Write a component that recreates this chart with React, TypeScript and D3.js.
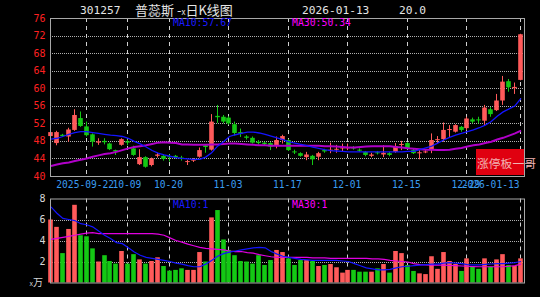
import React from "react";
import * as d3 from "d3";

const dates = [
  "2025-09-12","2025-09-15","2025-09-16","2025-09-17","2025-09-18","2025-09-19","2025-09-22","2025-09-23","2025-09-24","2025-09-25",
  "2025-09-26","2025-09-29","2025-09-30","2025-10-09","2025-10-10","2025-10-13","2025-10-14","2025-10-15","2025-10-16","2025-10-17",
  "2025-10-20","2025-10-21","2025-10-22","2025-10-23","2025-10-24","2025-10-27","2025-10-28","2025-10-29","2025-10-30","2025-10-31",
  "2025-11-03","2025-11-04","2025-11-05","2025-11-06","2025-11-07","2025-11-10","2025-11-11","2025-11-12","2025-11-13","2025-11-14",
  "2025-11-17","2025-11-18","2025-11-19","2025-11-20","2025-11-21","2025-11-24","2025-11-25","2025-11-26","2025-11-27","2025-11-28",
  "2025-12-01","2025-12-02","2025-12-03","2025-12-04","2025-12-05","2025-12-08","2025-12-09","2025-12-10","2025-12-11","2025-12-12",
  "2025-12-15","2025-12-16","2025-12-17","2025-12-18","2025-12-19","2025-12-22","2025-12-23","2025-12-24","2025-12-25","2025-12-26",
  "2025-12-29","2025-12-30","2025-12-31","2026-01-05","2026-01-06","2026-01-07","2026-01-08","2026-01-09","2026-01-12","2026-01-13",
];

const open = [
  49.1,47.5,49.4,49.0,50.5,53.2,51.3,49.5,47.6,48.0,
  47.4,45.9,47.1,47.9,46.3,42.7,44.3,42.5,44.6,44.6,
  44.5,44.6,44.2,43.2,43.5,44.4,47.0,46.0,53.7,53.5,
  53.3,51.8,50.0,49.0,48.7,47.8,47.6,47.5,46.9,48.2,
  48.2,45.6,45.2,44.3,44.6,44.4,45.9,45.8,46.0,46.3,
  46.3,46.5,46.0,45.5,44.6,45.4,44.9,45.2,45.5,47.1,
  47.5,45.9,45.2,45.4,45.9,48.2,48.4,50.5,50.1,51.2,
  50.9,52.9,52.9,52.6,55.2,55.0,57.2,61.6,60.0,61.9,
];
const close = [
  50.0,50.0,49.1,50.6,53.9,51.4,49.3,47.8,47.9,47.7,
  46.1,45.6,48.4,47.6,44.8,44.3,42.1,44.0,44.9,43.9,
  44.3,44.3,44.0,43.4,43.8,45.9,46.6,52.4,53.4,52.4,
  52.0,49.8,49.6,48.7,47.6,47.5,47.3,46.7,48.2,49.1,
  45.9,45.4,44.6,44.9,43.8,45.2,45.6,46.0,46.2,46.5,
  46.6,46.3,45.8,44.8,44.9,45.2,45.3,44.8,46.8,47.3,
  46.3,45.2,45.4,45.6,48.2,48.4,50.5,50.7,51.6,50.5,
  53.1,52.4,52.7,55.6,54.1,57.2,61.5,60.2,60.3,72.3,
];
const high = [
  50.3,50.3,49.6,51.0,55.2,54.7,52.4,49.7,48.6,48.6,
  47.6,46.0,48.6,48.3,46.9,46.1,44.5,44.2,45.3,45.0,
  44.9,44.8,44.6,43.7,44.1,46.5,47.3,54.1,56.2,53.9,
  53.6,52.4,50.8,49.3,49.0,48.2,47.8,47.7,49.0,49.4,
  48.4,46.0,45.4,45.5,44.8,45.5,46.2,47.6,47.1,47.4,
  47.4,46.8,46.3,45.7,45.3,45.7,47.0,45.5,47.5,48.0,
  47.7,46.2,45.9,45.9,49.7,49.1,52.2,51.6,51.8,51.4,
  53.5,53.3,53.5,56.2,55.7,58.7,62.8,62.1,61.3,72.4,
];
const low = [
  47.5,47.0,48.9,47.8,50.3,51.2,49.0,46.7,47.1,47.2,
  45.9,44.8,46.9,47.0,44.6,42.5,41.9,42.2,44.2,43.5,
  43.3,44.0,43.5,42.5,43.2,44.2,45.3,45.8,52.1,52.0,
  51.7,49.2,48.9,48.3,47.4,47.2,47.0,45.9,46.3,47.4,
  45.7,45.0,44.4,43.6,42.5,43.6,45.3,45.2,45.3,45.5,
  45.9,46.0,45.5,44.5,44.3,44.9,44.3,44.5,45.3,45.9,
  46.1,45.0,43.8,45.2,45.2,47.4,47.8,48.8,49.9,50.1,
  50.5,52.0,52.0,51.6,53.5,54.8,56.2,59.2,58.7,61.8,
];
const volume = [
  6.0,5.3,2.8,5.1,7.4,4.5,4.4,3.25,2.0,2.6,
  2.05,1.8,3.0,1.8,2.7,2.2,1.8,2.05,2.4,1.57,
  1.13,1.2,1.35,1.2,1.2,2.9,2.0,6.2,6.9,4.1,
  3.1,2.6,2.05,2.0,1.8,2.6,1.67,2.14,3.1,2.9,
  2.3,1.67,2.14,2.14,2.05,1.57,1.67,1.76,1.45,0.94,
  1.2,1.2,1.03,1.03,1.03,1.35,1.76,0.94,3.0,2.8,
  1.67,1.1,0.87,0.8,2.5,1.3,2.9,2.05,1.76,1.1,
  2.3,1.5,1.3,2.3,1.5,2.2,2.7,1.67,1.57,2.3,
];
const ma10 = [
  48.4,48.6,49.0,49.5,49.9,50.1,50.1,49.9,49.7,49.5,
  49.3,49.2,49.0,48.6,47.9,47.3,46.6,45.8,45.2,44.8,
  44.5,44.2,44.0,43.9,43.8,43.8,44.3,45.3,46.8,47.8,
  49.0,49.4,49.7,50.0,50.0,49.8,49.5,49.1,48.7,48.3,
  47.8,47.5,47.2,46.9,46.6,46.3,46.0,45.8,45.7,45.6,
  45.5,45.5,45.5,45.5,45.5,45.5,45.5,45.5,45.5,45.5,
  45.6,45.6,46.0,46.4,46.8,47.5,48.2,48.8,49.3,49.7,
  50.1,50.5,51.0,51.6,52.4,53.6,54.6,55.3,56.0,57.67,
];
const ma30 = [
  42.3,42.6,42.9,43.1,43.4,43.7,44.0,44.4,44.7,45.0,
  45.2,45.5,45.9,46.3,46.6,46.8,47.0,47.3,47.6,47.7,
  47.6,47.5,47.2,47.2,47.1,47.1,47.1,47.2,47.2,47.3,
  47.4,47.4,47.3,47.2,47.1,47.0,47.0,46.9,46.9,46.9,
  46.9,46.9,46.9,46.9,46.9,46.9,46.8,46.8,46.7,46.6,
  46.5,46.5,46.6,46.7,46.8,46.8,46.8,46.8,46.6,46.5,
  46.3,46.2,46.1,46.0,46.0,45.9,45.9,46.0,46.2,46.4,
  46.7,47.0,47.2,47.5,47.8,48.3,48.7,49.2,49.7,50.34,
];
const volMa10 = [
  7.2,6.6,6.1,6.0,5.9,5.6,5.5,5.3,4.9,4.5,
  4.2,3.8,3.7,3.3,2.9,2.6,2.4,2.3,2.2,2.1,
  2.0,1.85,1.75,1.6,1.5,1.5,1.75,2.1,2.5,2.75,
  2.9,3.0,3.1,3.2,3.3,3.35,3.3,2.95,2.7,2.5,
  2.4,2.3,2.2,2.15,2.1,2.1,2.1,2.1,2.1,2.05,
  2.0,1.8,1.6,1.4,1.3,1.2,1.2,1.25,1.4,1.5,
  1.55,1.6,1.65,1.7,1.75,1.75,1.85,1.9,1.85,1.8,
  1.7,1.67,1.67,1.72,1.76,1.8,1.8,1.85,1.9,2.0,
];
const volMa30 = [
  4.1,4.2,4.3,4.4,4.5,4.6,4.7,4.75,4.65,4.65,
  4.65,4.65,4.65,4.65,4.65,4.65,4.65,4.65,4.6,4.5,
  4.25,4.0,3.85,3.65,3.5,3.35,3.25,3.2,3.15,3.1,
  3.0,2.95,2.95,2.85,2.8,2.65,2.55,2.45,2.4,2.4,
  2.4,2.4,2.4,2.4,2.35,2.35,2.35,2.3,2.3,2.3,
  2.3,2.3,2.3,2.3,2.25,2.25,2.2,2.1,2.05,2.0,
  1.95,1.8,1.7,1.67,1.65,1.65,1.65,1.62,1.6,1.57,
  1.55,1.52,1.5,1.5,1.5,1.5,1.5,1.55,1.6,1.75,
];

const priceTicks = [76, 72, 68, 64, 60, 56, 52, 48, 44, 40];
const volTicks = [8, 6, 4, 2];
const tickDates = ["2025-09-22","2025-10-09","2025-10-20","2025-11-03","2025-11-17","2025-12-01","2025-12-15","2025-12-29","2026-01-13"];
const tickLabels = ["2025-09-22","10-09","10-20","11-03","11-17","12-01","12-15","12-29","2026-01-13"];

const UP = "#ff5a5a";
const DOWN = "#14c814";
const MONO = "'DejaVu Sans Mono', monospace";
const CJK = "'Noto Sans CJK SC', sans-serif";

export default function App() {
  const W = 540, H = 297;
  const left = 50, right = 524;
  const mainTop = 18, mainBottom = 176;
  const volTop = 198.5, volBottom = 282.5;

  const x = d3.scaleLinear().domain([0, dates.length - 1]).range([51, 521]);
  const y = d3.scaleLinear().domain([40, 76]).range([mainBottom, mainTop]);
  const yv = d3.scaleLinear().domain([0, 8]).range([volBottom, volTop]);
  const bw = 4.6;

  const priceLine = d3.line<number>().x((_, i) => x(i)).y((d) => y(d));
  const volLine = d3.line<number>().x((_, i) => x(i)).y((d) => yv(d));

  const tickIdx = tickDates.map((d) => dates.indexOf(d));

  return (
    <svg width={W} height={H} style={{ position: "fixed", left: 0, top: 0, background: "#000" }}>
      <rect x={0} y={0} width={W} height={H} fill="#000" />
      {/* title */}
      <text x={80} y={14} fill="#e4e4e4" fontFamily={MONO} fontSize={11.2}>301257</text>
      <text x={135} y={14.5} fill="#e4e4e4" fontFamily={CJK} fontSize={13}>
        普蕊斯 -<tspan fontSize={8}>x</tspan>日K线图
      </text>
      <text x={302} y={14} fill="#e4e4e4" fontFamily={MONO} fontSize={11.2}>2026-01-13</text>
      <text x={399} y={14} fill="#e4e4e4" fontFamily={MONO} fontSize={11.2}>20.0</text>

      {/* main grid */}
      {priceTicks.filter((t) => t !== 76 && t !== 40).map((t) => (
        <line key={"hg" + t} x1={left} x2={right} y1={Math.round(y(t)) + 0.5} y2={Math.round(y(t)) + 0.5}
          stroke="#b0b0b0" strokeDasharray="1,1" />
      ))}
      {volTicks.filter((t) => t !== 8).map((t) => (
        <line key={"vg" + t} x1={left} x2={right} y1={Math.round(yv(t)) + 0.5} y2={Math.round(yv(t)) + 0.5}
          stroke="#b0b0b0" strokeDasharray="1,1" />
      ))}
      {tickIdx.map((i, k) => (
        <g key={"vl" + k}>
          <line x1={Math.round(x(i)) - 0.5} x2={Math.round(x(i)) - 0.5} y1={mainTop} y2={mainBottom}
            stroke="#d0d0d0" strokeDasharray="4,4" />
          <line x1={Math.round(x(i)) - 0.5} x2={Math.round(x(i)) - 0.5} y1={volTop} y2={volBottom}
            stroke="#d0d0d0" strokeDasharray="4,4" />
        </g>
      ))}

      {/* price axis labels */}
      {priceTicks.map((t) => (
        <text key={"pt" + t} x={45.5} y={y(t) + 3.5} fill="#ff2020" fontFamily={MONO} fontSize={10}
          textAnchor="end">{t}</text>
      ))}
      {volTicks.map((t) => (
        <text key={"vt" + t} x={45.5} y={yv(t) + 3.5} fill="#d8d8d8" fontFamily={MONO} fontSize={10}
          textAnchor="end">{t}</text>
      ))}
      <text x={43} y={286} fill="#d8d8d8" fontFamily={CJK} fontSize={10} textAnchor="end">
        <tspan fontSize={7}>x</tspan>万
      </text>

      {/* date labels */}
      {tickIdx.map((i, k) => (
        <text key={"dl" + k} x={x(i) - 1.5}
          y={188} fill="#3a9cf0" fontFamily={MONO} fontSize={9.6}
          textAnchor={k === tickIdx.length - 1 ? "end" : "middle"}>{tickLabels[k]}</text>
      ))}

      {/* red badge */}
      <rect x={476} y={149} width={49} height={26} fill="#e00010" />
      <text x={477} y={168} fill="#f2b4b4" fontFamily={CJK} fontSize={11.8}>涨停板一哥</text>

      {/* candles */}
      {dates.map((d, i) => {
        const up = close[i] >= open[i];
        const c = up ? UP : DOWN;
        const cx = Math.round(x(i)) - 0.5;
        const top = y(Math.max(open[i], close[i]));
        const bot = y(Math.min(open[i], close[i]));
        return (
          <g key={"c" + i}>
            <line x1={cx} x2={cx} y1={y(high[i])} y2={y(low[i])} stroke={c} strokeWidth={1} />
            <rect x={cx - bw / 2} y={top} width={bw} height={Math.max(1, bot - top)} fill={c} />
          </g>
        );
      })}

      {/* main MA */}
      <path d={priceLine(ma30) || ""} fill="none" stroke="#b000c8" strokeWidth={2} />
      <path d={priceLine(ma10) || ""} fill="none" stroke="#1414ff" strokeWidth={1.3} />

      {/* volume bars */}
      {dates.map((d, i) => {
        const up = close[i] >= open[i];
        const c = up ? UP : DOWN;
        const cx = Math.round(x(i)) - 0.5;
        return (
          <rect key={"v" + i} x={cx - bw / 2} y={yv(volume[i])} width={bw} height={volBottom - yv(volume[i])}
            fill={c} />
        );
      })}
      <path d={volLine(volMa30) || ""} fill="none" stroke="#e000e0" strokeWidth={1.2} />
      <path d={volLine(volMa10) || ""} fill="none" stroke="#1414ff" strokeWidth={1.2} />

      {/* frames */}
      <rect x={left + 0.5} y={mainTop + 0.5} width={right - left} height={mainBottom - mainTop}
        fill="none" stroke="#a8a8a8" strokeWidth={1} />
      <rect x={left + 0.5} y={volTop + 0.5} width={right - left} height={volBottom - volTop}
        fill="none" stroke="#a8a8a8" strokeWidth={1} />

      {/* legends */}
      <text x={173} y={26} fill="#1a1aff" fontFamily={MONO} fontSize={9.8}>MA10:57.67</text>
      <text x={292} y={26} fill="#ff00ff" fontFamily={MONO} fontSize={9.8}>MA30:50.34</text>
      <text x={173} y={208} fill="#1a1aff" fontFamily={MONO} fontSize={9.8}>MA10:1</text>
      <text x={292} y={208} fill="#ff00ff" fontFamily={MONO} fontSize={9.8}>MA30:1</text>
    </svg>
  );
}
